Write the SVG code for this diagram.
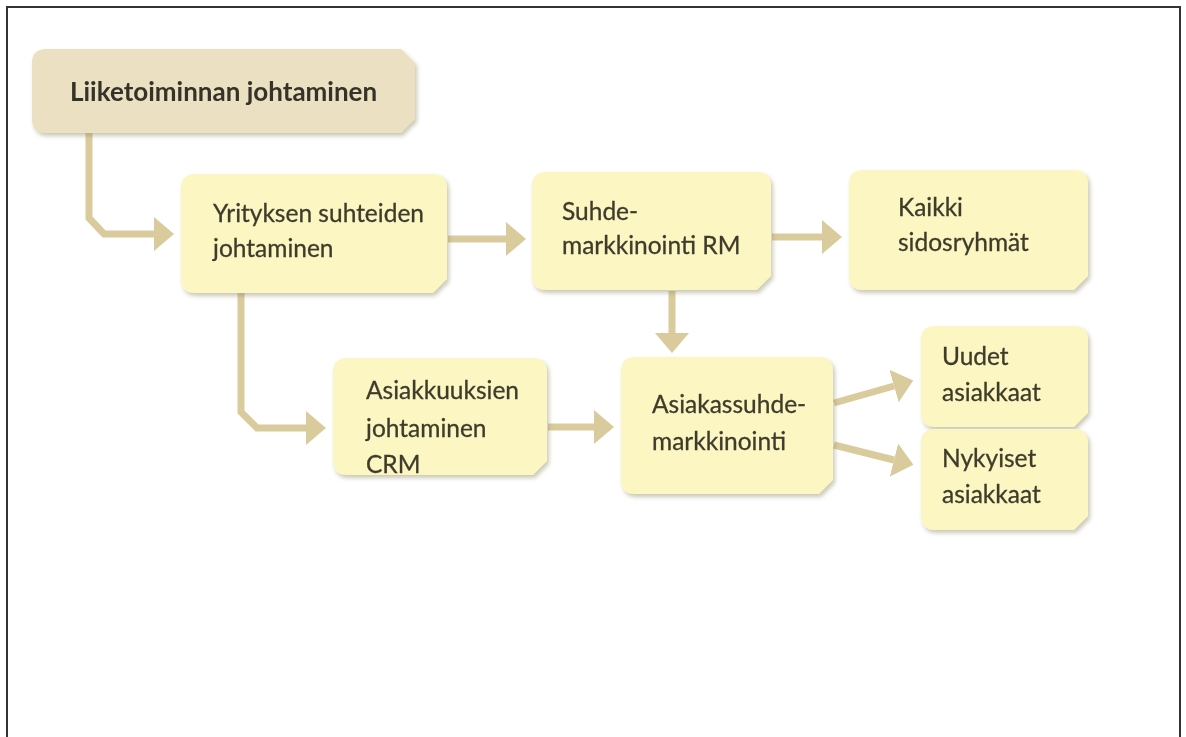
<svg xmlns="http://www.w3.org/2000/svg" width="1186" height="737" viewBox="0 0 1186 737">
<style>
.box{fill:#fcf6c3;}
.top{fill:#ebe1c2;}
.t{font-family:Lato,"Open Sans","Liberation Sans",sans-serif;font-size:24.5px;fill:#3e3b2c;stroke:#3e3b2c;stroke-width:0.3px;}
.tb{font-family:Lato,"Open Sans","Liberation Sans",sans-serif;font-size:26px;font-weight:bold;fill:#35332a;}
.c{fill:none;stroke:#d9cb9c;stroke-width:7;stroke-linejoin:miter;}
.frame{fill:none;stroke:#333;stroke-width:2;}
</style>
<defs>
<marker id="ah" markerUnits="userSpaceOnUse" markerWidth="22" markerHeight="36" refX="0" refY="17" orient="auto" viewBox="0 0 22 36">
<path d="M0,0 L20,17 L0,34 Z" fill="#d9cb9c"/>
</marker>
<filter id="sh" x="-5%" y="-5%" width="115%" height="120%">
<feDropShadow dx="2" dy="3" stdDeviation="2" flood-color="#8a845e" flood-opacity="0.45"/>
</filter>
</defs>
<rect width="1186" height="737" fill="#fff"/>
<path class="frame" d="M7,737 V7 H1180 V737"/>

<g id="connectors">
<path class="c" marker-end="url(#ah)" d="M89,133 V218 L104,234 H154"/>
<path class="c" marker-end="url(#ah)" d="M448,239 H506"/>
<path class="c" marker-end="url(#ah)" d="M772,237 H822"/>
<path class="c" marker-end="url(#ah)" d="M672,291 V333"/>
<path class="c" marker-end="url(#ah)" d="M241,293 V412 L257,428 H306"/>
<path class="c" marker-end="url(#ah)" d="M548,427 H594"/>
<path class="c" marker-end="url(#ah)" d="M834,403 L894,386"/>
<path class="c" marker-end="url(#ah)" d="M834,445 L894,460"/>
</g>

<g id="n-liiketoiminta" filter="url(#sh)">
<path class="top" d="M46,49 H401 L415,63 V119 L401,133 H46 Q32,133 32,119 V63 Q32,49 46,49 Z"/>
<text class="tb" x="70" y="101">Liiketoiminnan johtaminen</text>
</g>

<g id="n-yrityksen" filter="url(#sh)">
<path class="box" d="M195,174 H433 Q447,174 447,188 V279 L433,293 H195 Q181,293 181,279 V188 Q181,174 195,174 Z"/>
<text class="t" x="213" y="222">Yrityksen suhteiden</text>
<text class="t" x="213" y="257">johtaminen</text>
</g>

<g id="n-suhde" filter="url(#sh)">
<path class="box" d="M546,172 H757 Q771,172 771,186 V276 L757,290 H546 Q532,290 532,276 V186 Q532,172 546,172 Z"/>
<text class="t" x="562" y="220">Suhde-</text>
<text class="t" x="562" y="254">markkinointi RM</text>
</g>

<g id="n-kaikki" filter="url(#sh)">
<path class="box" d="M863,170 H1074 Q1088,170 1088,184 V276 L1074,290 H863 Q849,290 849,276 V184 Q849,170 863,170 Z"/>
<text class="t" x="898" y="216">Kaikki</text>
<text class="t" x="898" y="251">sidosryhmät</text>
</g>

<g id="n-asiakkuuksien" filter="url(#sh)">
<path class="box" d="M347,358 H533 Q547,358 547,372 V461 L533,475 H347 Q333,475 333,461 V372 Q333,358 347,358 Z"/>
<text class="t" x="366" y="399">Asiakkuuksien</text>
<text class="t" x="366" y="437">johtaminen</text>
<text class="t" x="366" y="473">CRM</text>
</g>

<g id="n-asiakassuhde" filter="url(#sh)">
<path class="box" d="M635,357 H819 Q833,357 833,371 V480 L819,494 H635 Q621,494 621,480 V371 Q621,357 635,357 Z"/>
<text class="t" x="652" y="413">Asiakassuhde-</text>
<text class="t" x="652" y="450">markkinointi</text>
</g>

<g id="n-uudet" filter="url(#sh)">
<path class="box" d="M935,326 H1074 Q1088,326 1088,340 V413 L1074,427 H935 Q921,427 921,413 V340 Q921,326 935,326 Z"/>
<text class="t" x="942" y="365">Uudet</text>
<text class="t" x="942" y="401">asiakkaat</text>
</g>

<g id="n-nykyiset" filter="url(#sh)">
<path class="box" d="M935,429 H1074 Q1088,429 1088,443 V516 L1074,530 H935 Q921,530 921,516 V443 Q921,429 935,429 Z"/>
<text class="t" x="942" y="467">Nykyiset</text>
<text class="t" x="942" y="503">asiakkaat</text>
</g>
</svg>
